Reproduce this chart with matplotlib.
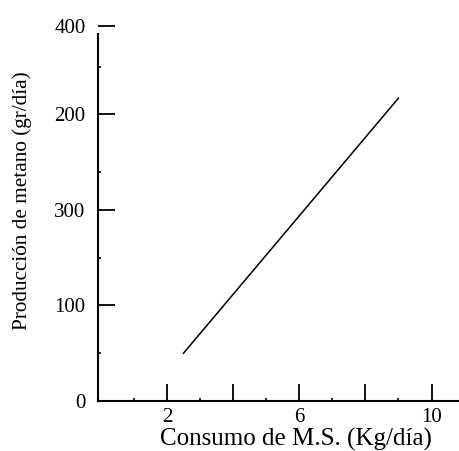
import matplotlib.pyplot as plt

# datos
consumo = [2.5, 9.0]          # Kg/dia
produccion = [50, 317]        # posicion en el eje y

x_ticks = [2, 4, 6, 8, 10]
x_labels = ['2', '', '6', '', '10']
x_minor = [1, 3, 5, 7, 9]

y_ticks = [0, 100, 200, 300, 392]
y_labels = ['0', '100', '300', '200', '400']
y_minor = [50, 150, 240, 350]

plt.rcParams['font.family'] = ['Liberation Serif', 'DejaVu Serif']

fig = plt.figure(figsize=(4.59, 4.51), dpi=100)
ax = fig.add_axes([98 / 459, 50 / 451, 360 / 459, 377.4 / 451])

ax.plot(consumo, produccion, color='black', linewidth=1.1)

ax.set_xlim(-0.085, 10.8)
ax.set_ylim(0, 395)

ax.spines['top'].set_visible(False)
ax.spines['right'].set_visible(False)
ax.spines['left'].set_bounds(0, 384)
ax.spines['left'].set_linewidth(1.5)
ax.spines['bottom'].set_linewidth(1.5)

ax.set_xticks(x_ticks)
ax.set_xticklabels(x_labels)
ax.set_xticks(x_minor, minor=True)
ax.set_yticks(y_ticks)
ax.set_yticklabels(y_labels)
ax.set_yticks(y_minor, minor=True)

ax.tick_params(which='major', direction='in', length=12.5, width=1.3,
               labelsize=15, pad=5)
ax.tick_params(axis='y', which='major', pad=9)
ax.tick_params(which='minor', direction='in', length=2.5, width=1.2)

ax.set_xlabel('Consumo de M.S. (Kg/día)', fontsize=18)
ax.set_ylabel('Producción de metano (gr/día)', fontsize=15.3)
ax.xaxis.set_label_coords(0.55, -0.071)
ax.yaxis.set_label_coords(-0.183, 0.53)

fig.savefig('out.png', dpi=100)
